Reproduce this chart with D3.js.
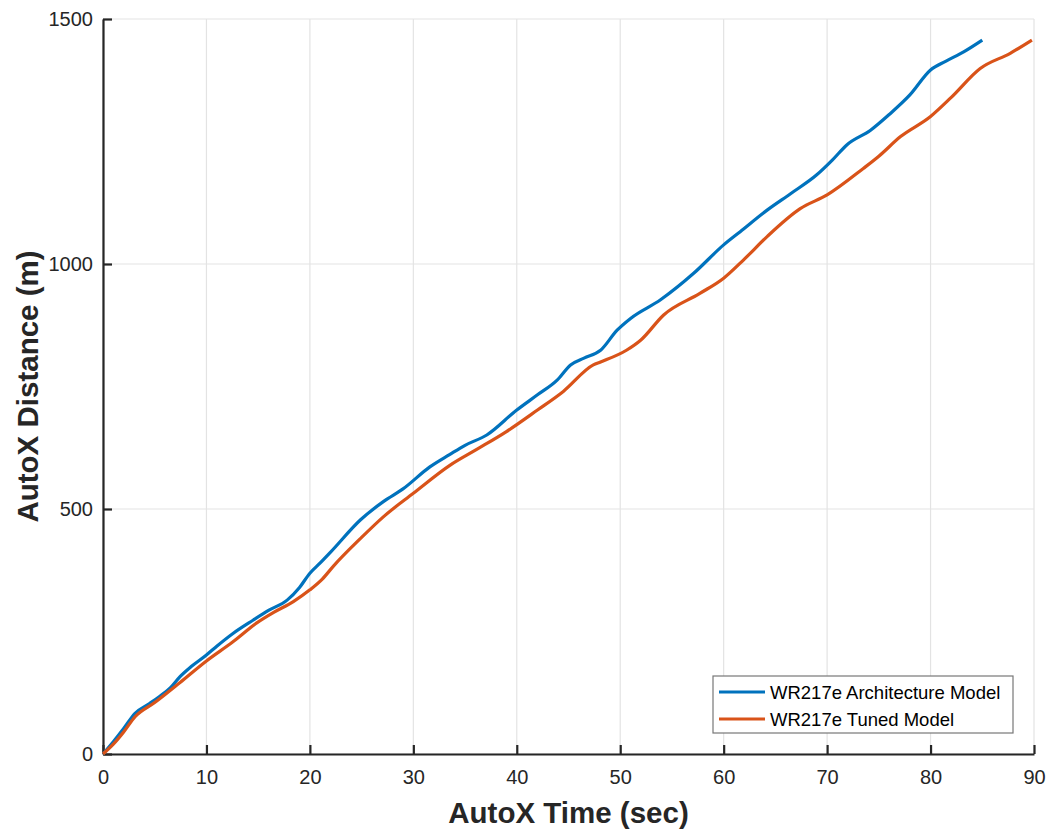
<!DOCTYPE html>
<html><head><meta charset="utf-8">
<script src="https://cdn.jsdelivr.net/npm/d3@7"></script>
<style>body{margin:0;background:#fff}svg{display:block}</style>
</head><body>
<svg id="chart" width="1049" height="829"></svg>
<script>
const archTime = [0,1,2,3.1,4.5,5.5,6.5,7.45,8.5,10,11,12.5,14.5,16,17.8,19,20,21,22,24.9,27.1,29,31.6,33.5,35,37.1,40,42,43.9,45.2,46.5,48.1,49.7,51,53.9,57.1,60,61.6,64.2,66.5,69,70.5,71.9,74.2,76,78,80,81.5,83.2,85];
const archDist = [0,25,52,83,103,118,135,158,178,202,220,245,273,293,314,340,369,390,412,478,515,541,586,611,630,651,702,733,763,794,808,824,865,889,927,981,1039,1066,1110,1144,1182,1212,1243,1273,1305,1345,1396,1414,1433,1457];
const tunedTime = [0,1,2,3.1,5,7.45,10,12.5,14.9,16.5,18.4,20,21.2,22.3,24.9,27.1,30,33.6,36,39,42,44.5,47.4,48.1,50.6,52,54.2,57.7,60,62,64.2,67.4,70,73.5,75,77.1,80,82,84.8,87.7,89.8];
const tunedDist = [0,20,45,76,105,146,190,228,268,289,311,335,357,384,440,484,532,590,620,658,702,740,794,800,824,845,896,940,971,1010,1056,1113,1141,1195,1220,1260,1301,1340,1399,1430,1457];
const xTicks = [0,10,20,30,40,50,60,70,80,90];
const yTicks = [0,500,1000,1500];
const seriesNames = ["WR217e Architecture Model","WR217e Tuned Model"];
const seriesColors = ["#0072BD","#D95319"];

const svg = d3.select("#chart");
const L=103, R=1034, T=19, B=754;
const x = d3.scaleLinear().domain([0,90]).range([L,R]);
const y = d3.scaleLinear().domain([0,1500]).range([B,T]);
const font = "'Liberation Sans', Arial, Helvetica, sans-serif";

// grid
svg.append("g").selectAll("line").data(xTicks).join("line")
  .attr("x1",d=>x(d)).attr("x2",d=>x(d)).attr("y1",T).attr("y2",B)
  .attr("stroke","#e3e3e3").attr("stroke-width",1.2);
svg.append("g").selectAll("line").data(yTicks).join("line")
  .attr("x1",L).attr("x2",R).attr("y1",d=>y(d)).attr("y2",d=>y(d))
  .attr("stroke","#e3e3e3").attr("stroke-width",1.2);

// axes
const xAxis = d3.axisBottom(x).tickValues(xTicks).tickFormat(d3.format("d")).tickSizeInner(-9).tickSizeOuter(0).tickPadding(16);
const gx = svg.append("g").attr("transform",`translate(0,${B})`).call(xAxis);
const yAxis = d3.axisLeft(y).tickValues(yTicks).tickFormat(d3.format("d")).tickSizeInner(-9).tickSizeOuter(0).tickPadding(10);
const gy = svg.append("g").attr("transform",`translate(${L},0)`).call(yAxis);
[gx,gy].forEach(g=>{
  g.select(".domain").attr("stroke","#262626").attr("stroke-width",2.2);
  g.selectAll(".tick line").attr("stroke","#262626").attr("stroke-width",2.2);
  g.selectAll(".tick text").attr("fill","#262626").style("font-family",font).style("font-size","20px");
});

// lines
const line = d3.line().x(d=>x(d[0])).y(d=>y(d[1])).curve(d3.curveMonotoneX);
const archData = archTime.map((t,i)=>[t,archDist[i]]);
const tunedData = tunedTime.map((t,i)=>[t,tunedDist[i]]);
svg.append("path").datum(archData).attr("d",line).attr("fill","none")
  .attr("stroke",seriesColors[0]).attr("stroke-width",3.2);
svg.append("path").datum(tunedData).attr("d",line).attr("fill","none")
  .attr("stroke",seriesColors[1]).attr("stroke-width",3.2);

// axis labels
svg.append("text").attr("x",(L+R)/2).attr("y",823).attr("text-anchor","middle")
  .style("font-family",font).style("font-size","29.5px").style("font-weight","bold").attr("fill","#262626")
  .text("AutoX Time (sec)");
svg.append("text").attr("transform",`translate(38,${(T+B)/2}) rotate(-90)`).attr("text-anchor","middle")
  .style("font-family",font).style("font-size","29.5px").style("font-weight","bold").attr("fill","#262626")
  .text("AutoX Distance (m)");

// legend
const lg = svg.append("g");
lg.append("rect").attr("x",713).attr("y",676).attr("width",300).attr("height",57)
  .attr("fill","#fff").attr("stroke","#777").attr("stroke-width",1.2);
seriesNames.forEach((n,i)=>{
  const yy = 692 + i*27;
  lg.append("line").attr("x1",719).attr("x2",765).attr("y1",yy).attr("y2",yy)
    .attr("stroke",seriesColors[i]).attr("stroke-width",3.2);
  lg.append("text").attr("x",770).attr("y",yy+6.5).style("font-family",font).style("font-size","18.5px")
    .attr("fill","#000").text(n);
});
</script>
</body></html>
